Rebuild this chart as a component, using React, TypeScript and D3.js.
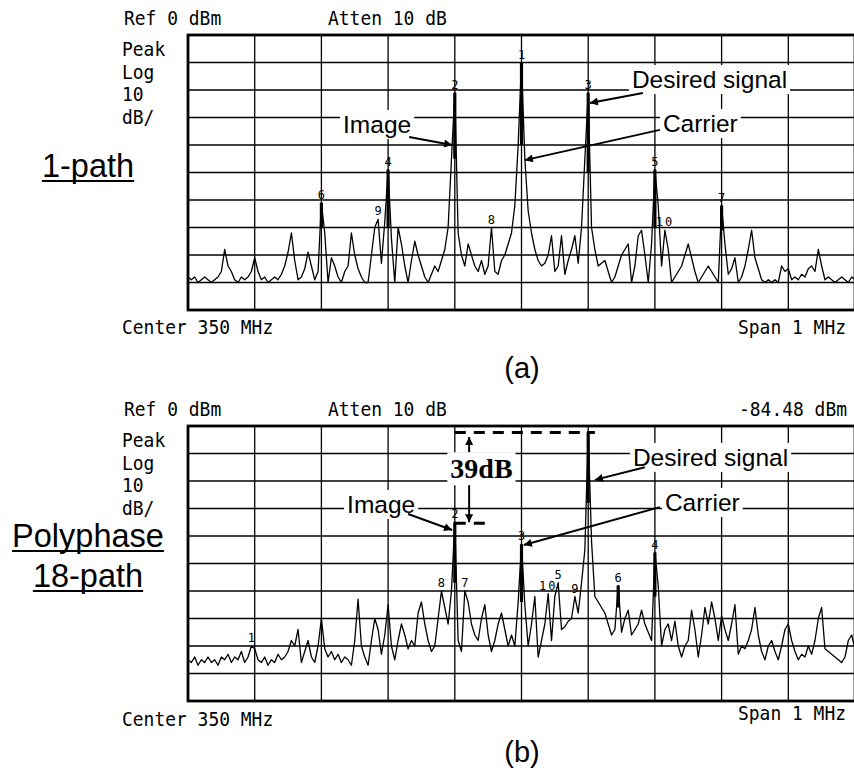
import React, { useRef, useEffect } from "react";
import * as d3 from "d3";

// sweep readings in dBm (Ref 0 dBm, 10 dB/div), 201 points over the 1 MHz span
const traceA = [
	-88, -89, -88, -90, -89, -88, -89, -90, -89, -88, -86, -78, -84, -86, -89, -90, -88, -89, -88, -86,
	-81, -86, -89, -88, -90, -89, -88, -89, -87, -84, -79, -72, -82, -89, -88, -85, -79, -84, -89, -86,
	-61, -72, -90, -81, -84, -88, -90, -86, -84, -72, -80, -85, -88, -90, -90, -80, -70, -67, -83, -68,
	-49, -74, -90, -70, -76, -84, -90, -82, -75, -80, -84, -88, -90, -87, -84, -86, -82, -78, -70, -45,
	-21, -72, -80, -84, -76, -80, -84, -86, -82, -87, -84, -70, -86, -87, -82, -80, -76, -72, -62, -40,
	-10, -45, -64, -72, -78, -82, -84, -83, -80, -73, -86, -84, -73, -87, -82, -78, -73, -83, -70, -45,
	-21, -70, -78, -84, -83, -82, -86, -90, -88, -84, -80, -78, -76, -90, -84, -73, -71, -80, -90, -76,
	-49, -62, -84, -71, -78, -90, -88, -86, -84, -80, -76, -81, -86, -90, -88, -86, -84, -86, -88, -90,
	-62, -76, -87, -85, -81, -90, -88, -84, -78, -71, -81, -85, -89, -90, -89, -90, -89, -90, -84, -86,
	-85, -89, -88, -89, -87, -88, -85, -84, -86, -78, -84, -89, -88, -89, -90, -89, -88, -89, -90, -88, -89,
];

const traceB = [
	-85, -86, -84, -87, -85, -86, -84, -86, -85, -87, -84, -85, -83, -86, -84, -85, -82, -86, -84, -80,
	-81, -85, -86, -84, -87, -85, -86, -83, -85, -84, -82, -78, -80, -74, -86, -82, -78, -84, -86, -80,
	-70, -81, -84, -82, -85, -83, -86, -84, -85, -87, -78, -63, -80, -84, -87, -78, -70, -74, -83, -76,
	-65, -80, -85, -78, -72, -76, -81, -78, -80, -68, -64, -72, -78, -82, -80, -70, -60, -66, -72, -60,
	-35, -78, -82, -60, -64, -72, -76, -78, -70, -65, -76, -82, -78, -72, -68, -74, -80, -76, -80, -64,
	-43, -65, -80, -72, -62, -84, -78, -72, -61, -78, -62, -57, -74, -73, -71, -70, -62, -68, -57, -45,
	-2, -42, -62, -64, -66, -68, -72, -76, -74, -58, -75, -70, -67, -76, -74, -72, -67, -72, -75, -78,
	-46, -58, -80, -74, -72, -78, -71, -80, -84, -80, -78, -67, -74, -84, -76, -66, -72, -64, -70, -78,
	-69, -74, -78, -72, -65, -83, -80, -81, -78, -74, -66, -76, -82, -85, -80, -78, -82, -85, -80, -74,
	-72, -78, -82, -85, -83, -84, -80, -83, -78, -70, -66, -81, -82, -83, -84, -85, -86, -84, -78, -76, -81,
];

// marker number, sweep index
const markersA = [["1", 100], ["2", 80], ["3", 120], ["4", 60], ["5", 140], ["6", 40], ["7", 160], ["8", 91], ["9", 57], ["10", 143]];
const markersB = [["1", 19], ["2", 80], ["3", 100], ["4", 140], ["5", 111], ["6", 129], ["7", 83], ["8", 76], ["9", 116], ["10", 108]];

// thick max-hold part of the big spurs: sweep index, lower end in dBm
const barsA = [[100, -40], [80, -45], [120, -50], [60, -70], [140, -70], [40, -70], [160, -71]];
const barsB = [[120, -28], [80, -57], [100, -64], [140, -62], [129, -66]];

// callouts: text position [index, dBm], arrow from / to [index, dBm]
const notesA = [
	{ text: "Image", at: [46.5, -35.6], from: [66.3, -37.1], to: [79.2, -40] },
	{ text: "Desired signal", at: [133.1, -19.3], from: [136.4, -21.1], to: [120.5, -24.7] },
	{ text: "Carrier", at: [142.4, -35.3], from: [141.5, -34.5], to: [101, -45.5] },
];
const notesB = [
	{ text: "Image", at: [47.7, -31.6], from: [66, -32], to: [79.2, -37.8] },
	{ text: "Desired signal", at: [133.4, -14.5], from: [137, -15], to: [122, -19.6] },
	{ text: "Carrier", at: [143, -30.9], from: [141.5, -29.5], to: [100.7, -43.3] },
];

const sideLabels = ["Peak", "Log", "10", "dB/"];

const GRID_LEFT = 188;
const GRID_W = 667;
const GRID_H = 275;
const CHAR_W = 10.8;
const MONO = "'DejaVu Sans Mono', monospace";
const SANS = "'Liberation Sans', Arial, sans-serif";

const panels = [
	{ top: 35, trace: traceA, markers: markersA, bars: barsA, notes: notesA, readout: "", title: ["1-path"], titleY: [177], tag: "(a)", tagY: 378, spanDy: 299, centerDy: 299, bracket: false },
	{ top: 426, trace: traceB, markers: markersB, bars: barsB, notes: notesB, readout: "-84.48 dBm", title: ["Polyphase", "18-path"], titleY: [547, 587], tag: "(b)", tagY: 762, spanDy: 294, centerDy: 300, bracket: true },
];

function drawPanel(svg, p) {
	const n = p.trace.length;
	const x = d3.scaleLinear().domain([0, n - 1]).range([GRID_LEFT, GRID_LEFT + GRID_W]);
	const y = d3.scaleLinear().domain([0, -100]).range([p.top, p.top + GRID_H]);

	const g = svg.append("g");
	const gGrid = g.append("g").attr("stroke", "#000").attr("stroke-width", 1.3);
	const gBox = g.append("g");
	const gTrace = g.append("g");
	const gNote = g.append("g");

	// screen text, squeezed to the analyzer's narrow font
	const scrn = (str, xx, yy, end = false) =>
		g.append("text")
			.attr("x", end ? xx - str.length * CHAR_W : xx)
			.attr("y", yy)
			.attr("font-family", MONO)
			.attr("font-size", 19)
			.attr("textLength", str.length * CHAR_W)
			.attr("lengthAdjust", "spacingAndGlyphs")
			.text(str);

	scrn("Ref 0 dBm", 124, p.top - 10);
	scrn("Atten 10 dB", 328, p.top - 10);
	if (p.readout) scrn(p.readout, 847, p.top - 10, true);
	sideLabels.forEach((s, k) => scrn(s, 122, p.top + 21 + k * 22.5));
	scrn("Center 350 MHz", 122, p.top + p.centerDy);
	scrn("Span 1 MHz", 846, p.top + p.spanDy, true);

	// graticule
	gGrid.selectAll("line")
		.data(d3.range(0, n, 20))
		.join("line")
		.attr("x1", (d) => x(d))
		.attr("x2", (d) => x(d))
		.attr("y1", y(0))
		.attr("y2", y(-100));
	gGrid.append("g")
		.selectAll("line")
		.data(d3.range(-10, -100, -10))
		.join("line")
		.attr("x1", x(0))
		.attr("x2", x(n - 1))
		.attr("y1", (d) => y(d))
		.attr("y2", (d) => y(d));
	gGrid.append("rect")
		.attr("x", x(0))
		.attr("y", y(0))
		.attr("width", x(n - 1) - x(0))
		.attr("height", y(-100) - y(0))
		.attr("fill", "none")
		.attr("stroke-width", 2.8);

	// trace
	const line = d3.line().x((d, i) => x(i)).y((d) => y(d));
	gTrace.append("path")
		.datum(p.trace)
		.attr("d", line)
		.attr("fill", "none")
		.attr("stroke", "#000")
		.attr("stroke-width", 1.3)
		.attr("stroke-linejoin", "round");

	gTrace.selectAll("line")
		.data(p.bars)
		.join("line")
		.attr("x1", (d) => x(d[0]))
		.attr("x2", (d) => x(d[0]))
		.attr("y1", (d) => y(p.trace[d[0]]))
		.attr("y2", (d) => y(d[1]))
		.attr("stroke", "#000")
		.attr("stroke-width", 3.2);

	gTrace.selectAll("text")
		.data(p.markers)
		.join("text")
		.attr("x", (d) => x(d[1]))
		.attr("y", (d) => y(p.trace[d[1]]) - 4)
		.attr("text-anchor", "middle")
		.attr("font-family", MONO)
		.attr("font-size", 12)
		.attr("fill", "#000")
		.attr("letter-spacing", (d) => (d[0].length > 1 ? 2 : 0))
		.text((d) => d[0]);

	// callouts with white boxes that cut the graticule
	const boxed = (t, pad) => {
		const b = t.node().getBBox();
		gBox.append("rect")
			.attr("x", b.x - pad)
			.attr("y", b.y - 1)
			.attr("width", b.width + pad * 2)
			.attr("height", b.height + 2)
			.attr("fill", "#fff");
	};

	p.notes.forEach((nt) => {
		const t = gNote.append("text")
			.attr("x", x(nt.at[0]))
			.attr("y", y(nt.at[1]))
			.attr("font-family", SANS)
			.attr("font-size", 24.5)
			.text(nt.text);
		boxed(t, 3);
		gNote.append("line")
			.attr("x1", x(nt.from[0]))
			.attr("y1", y(nt.from[1]))
			.attr("x2", x(nt.to[0]))
			.attr("y2", y(nt.to[1]))
			.attr("stroke", "#000")
			.attr("stroke-width", 2)
			.attr("marker-end", "url(#head)");
	});

	if (p.bracket) {
		const hi = p.trace[120];
		const lo = p.trace[80];
		const dash = (i0, i1, v) =>
			gNote.append("line")
				.attr("x1", x(i0))
				.attr("x2", x(i1))
				.attr("y1", y(v) + 1)
				.attr("y2", y(v) + 1)
				.attr("stroke", "#000")
				.attr("stroke-width", 3)
				.attr("stroke-dasharray", "11,8");
		dash(80, 122, hi);
		dash(80, 90, lo);
		const t = gNote.append("text")
			.attr("x", x(88))
			.attr("y", y(-19))
			.attr("text-anchor", "middle")
			.attr("font-family", "'Liberation Serif', 'Times New Roman', serif")
			.attr("font-weight", "bold")
			.attr("font-size", 28)
			.text("39dB");
		boxed(t, 3);
		const arrow = (a, b) =>
			gNote.append("line")
				.attr("x1", x(84.3))
				.attr("x2", x(84.3))
				.attr("y1", y(a))
				.attr("y2", y(b))
				.attr("stroke", "#000")
				.attr("stroke-width", 2)
				.attr("marker-end", "url(#head)");
		arrow(-9.5, hi - 2);
		arrow(-21.5, lo);
	}

	// case label on the left
	p.title.forEach((s, k) => {
		const t = svg.append("text")
			.attr("x", 88)
			.attr("y", p.titleY[k])
			.attr("text-anchor", "middle")
			.attr("font-family", SANS)
			.attr("font-size", 32.5)
			.text(s);
		const b = t.node().getBBox();
		svg.append("line")
			.attr("x1", b.x)
			.attr("x2", b.x + b.width)
			.attr("y1", p.titleY[k] + 4)
			.attr("y2", p.titleY[k] + 4)
			.attr("stroke", "#000")
			.attr("stroke-width", 2);
	});

	svg.append("text")
		.attr("x", 522)
		.attr("y", p.tagY)
		.attr("text-anchor", "middle")
		.attr("font-family", SANS)
		.attr("font-size", 29)
		.text(p.tag);
}

const App = () => {
	const svgRef = useRef(null);

	useEffect(() => {
		document.body.style.margin = "0";
		const svg = d3.select(svgRef.current);
		svg.selectAll("*").remove();

		svg.append("defs")
			.append("marker")
			.attr("id", "head")
			.attr("viewBox", "0 0 10 10")
			.attr("refX", 10)
			.attr("refY", 5)
			.attr("markerUnits", "userSpaceOnUse")
			.attr("markerWidth", 11)
			.attr("markerHeight", 8)
			.attr("orient", "auto")
			.append("path")
			.attr("d", "M0,0L10,5L0,10Z")
			.attr("fill", "#000");

		panels.forEach((p) => drawPanel(svg, p));
	}, []);

	return (
		<svg
			ref={svgRef}
			width={854}
			height={778}
			style={{ display: "block", background: "#fff" }}
		/>
	);
};

export default App;
